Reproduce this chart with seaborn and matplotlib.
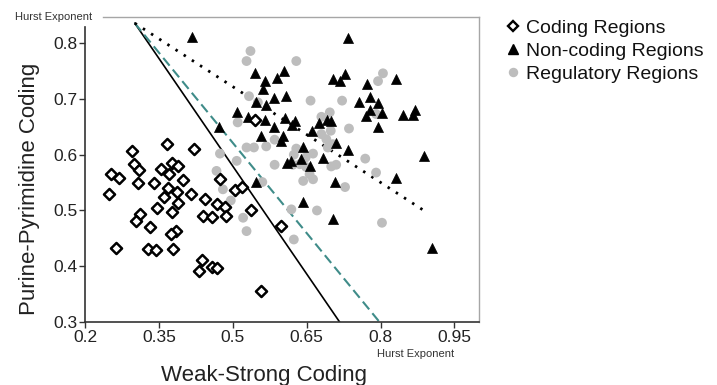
import matplotlib
matplotlib.use("Agg")
import matplotlib.pyplot as plt
from matplotlib.lines import Line2D
import seaborn as sns
import pandas as pd

# ---- data ----
coding_x = [0.367, 0.422, 0.296, 0.300, 0.310, 0.376, 0.389, 0.354, 0.371, 0.253,
            0.270, 0.307, 0.340, 0.399, 0.369, 0.386, 0.249, 0.361, 0.415, 0.443,
            0.474, 0.504, 0.519, 0.469, 0.485, 0.389, 0.347, 0.376, 0.311, 0.440,
            0.457, 0.487, 0.537, 0.303, 0.332, 0.384, 0.374, 0.263, 0.327, 0.344,
            0.379, 0.438, 0.432, 0.458, 0.469, 0.557, 0.545, 0.597]
coding_y = [0.619, 0.611, 0.606, 0.584, 0.572, 0.586, 0.580, 0.574, 0.566, 0.565,
            0.559, 0.550, 0.550, 0.554, 0.541, 0.533, 0.530, 0.524, 0.529, 0.520,
            0.556, 0.536, 0.542, 0.512, 0.507, 0.514, 0.504, 0.498, 0.494, 0.490,
            0.489, 0.490, 0.500, 0.482, 0.470, 0.464, 0.457, 0.432, 0.431, 0.430,
            0.431, 0.411, 0.391, 0.399, 0.397, 0.356, 0.663, 0.472]

noncoding_x = [0.418, 0.734, 0.545, 0.604, 0.590, 0.565, 0.561, 0.609, 0.583, 0.548,
               0.568, 0.508, 0.530, 0.565, 0.607, 0.626, 0.621, 0.583, 0.558, 0.602,
               0.597, 0.472, 0.660, 0.675, 0.692, 0.700, 0.710, 0.734, 0.642, 0.704,
               0.727, 0.718, 0.773, 0.832, 0.757, 0.778, 0.795, 0.778, 0.803, 0.771,
               0.794, 0.845, 0.866, 0.870, 0.889, 0.610, 0.619, 0.639, 0.657, 0.683,
               0.547, 0.707, 0.832, 0.643, 0.704, 0.904]
noncoding_y = [0.811, 0.810, 0.746, 0.751, 0.738, 0.732, 0.717, 0.706, 0.701, 0.695,
               0.689, 0.676, 0.668, 0.663, 0.666, 0.661, 0.654, 0.649, 0.634, 0.634,
               0.624, 0.650, 0.643, 0.657, 0.663, 0.661, 0.621, 0.609, 0.614, 0.735,
               0.745, 0.732, 0.727, 0.736, 0.694, 0.704, 0.692, 0.680, 0.674, 0.670,
               0.650, 0.672, 0.672, 0.681, 0.598, 0.586, 0.589, 0.592, 0.579, 0.594,
               0.551, 0.551, 0.559, 0.515, 0.484, 0.432]

regulatory_x = [0.536, 0.528, 0.629, 0.533, 0.551, 0.658, 0.722, 0.805, 0.795, 0.680,
                0.697, 0.736, 0.680, 0.699, 0.690, 0.528, 0.543, 0.568, 0.585, 0.474,
                0.508, 0.629, 0.663, 0.693, 0.703, 0.769, 0.585, 0.622, 0.649, 0.710,
                0.467, 0.480, 0.496, 0.521, 0.528, 0.560, 0.624, 0.636, 0.648, 0.643,
                0.663, 0.656, 0.700, 0.791, 0.728, 0.619, 0.671, 0.624, 0.803, 0.791,
                0.510]
regulatory_y = [0.786, 0.768, 0.768, 0.705, 0.694, 0.697, 0.697, 0.746, 0.732, 0.668,
                0.676, 0.647, 0.637, 0.643, 0.628, 0.613, 0.613, 0.615, 0.627, 0.602,
                0.589, 0.611, 0.602, 0.613, 0.619, 0.593, 0.582, 0.582, 0.578, 0.582,
                0.571, 0.538, 0.518, 0.487, 0.463, 0.551, 0.600, 0.583, 0.595, 0.553,
                0.556, 0.565, 0.579, 0.568, 0.542, 0.502, 0.500, 0.448, 0.478, 0.673,
                0.658]

# boundary lines (start / end points)
solid_x = [0.301, 0.717]
solid_y = [0.836, 0.300]
dashed_x = [0.301, 0.798]
dashed_y = [0.836, 0.300]
dotted_x = [0.301, 0.895]
dotted_y = [0.836, 0.496]

x_ticks = [0.2, 0.35, 0.5, 0.65, 0.8, 0.95]
x_tick_labels = ["0.2", "0.35", "0.5", "0.65", "0.8", "0.95"]
y_ticks = [0.3, 0.4, 0.5, 0.6, 0.7, 0.8]
y_tick_labels = ["0.3", "0.4", "0.5", "0.6", "0.7", "0.8"]
legend_labels = ["Coding Regions", "Non-coding Regions", "Regulatory Regions"]

# ---- styling ----
sns.set_theme(style="white")
plt.rcParams["font.family"] = ["Liberation Sans", "DejaVu Sans"]

fig = plt.figure(figsize=(7.17, 3.85), dpi=100)
ax = fig.add_axes([85 / 717, 1 - 322 / 385, (479 - 85) / 717, (322 - 17) / 385])

df_c = pd.DataFrame({"x": coding_x, "y": coding_y})
df_n = pd.DataFrame({"x": noncoding_x, "y": noncoding_y})
df_r = pd.DataFrame({"x": regulatory_x, "y": regulatory_y})

teal = "#3f8c89"
sns.lineplot(x=solid_x, y=solid_y, ax=ax, color="black", lw=1.2, sort=False,
             estimator=None, zorder=2)
sns.lineplot(x=dashed_x, y=dashed_y, ax=ax, color=teal, lw=1.5, sort=False,
             estimator=None, zorder=2, dashes=False, linestyle=(0, (4.8, 2.4)))
sns.lineplot(x=dotted_x, y=dotted_y, ax=ax, color="black", lw=2.0, sort=False,
             estimator=None, zorder=2, dashes=False, linestyle=(0, (0.9, 2.6)))

sns.scatterplot(data=df_r, x="x", y="y", ax=ax, marker="o", s=50,
                color="#bdbdbd", edgecolor="none", linewidth=0, zorder=3)
sns.scatterplot(data=df_n, x="x", y="y", ax=ax, marker="^", s=52,
                color="black", edgecolor="black", linewidth=0.5, zorder=4)
sns.scatterplot(data=df_c, x="x", y="y", ax=ax, marker="D", s=32,
                color="white", edgecolor="black", linewidth=1.8, zorder=5)

ax.set_xlim(0.2, 1.0)
ax.set_ylim(0.3, 0.847)
ax.set_xticks(x_ticks)
ax.set_xticklabels(x_tick_labels)
ax.set_yticks(y_ticks)
ax.set_yticklabels(y_tick_labels)
ax.tick_params(axis="both", which="major", labelsize=12.5, length=4, width=1,
               direction="out", color="#333333", pad=1.5, labelcolor="#222222",
               bottom=True, left=True)

for side in ["left", "bottom"]:
    ax.spines[side].set_color("#333333")
    ax.spines[side].set_linewidth(1.2)
for side in ["top", "right"]:
    ax.spines[side].set_visible(True)
    ax.spines[side].set_color("#a6a6a6")
    ax.spines[side].set_linewidth(1.0)
ax.spines["left"].set_bounds(0.3, 0.829)
ax.spines["top"].set_bounds(0.236, 1.0)

ax.set_xlabel("Weak-Strong Coding", fontsize=16, color="#222222")
ax.set_ylabel("Purine-Pyrimidine Coding", fontsize=16, color="#222222")
ax.xaxis.set_label_coords(0.455, -0.14)
ax.yaxis.set_label_coords(-0.115, 0.435)

# small "Hurst Exponent" captions
fig.text(15 / 717, 1 - 17 / 385, "Hurst Exponent", fontsize=8, color="#333333",
         ha="left", va="center")
fig.text(377 / 717, 1 - 354 / 385, "Hurst Exponent", fontsize=8, color="#333333",
         ha="left", va="center")

handles = [
    Line2D([], [], marker="D", linestyle="none", markersize=5.4,
           markerfacecolor="white", markeredgecolor="black", markeredgewidth=1.7),
    Line2D([], [], marker="^", linestyle="none", markersize=6.8,
           markerfacecolor="black", markeredgecolor="black"),
    Line2D([], [], marker="o", linestyle="none", markersize=6.8,
           markerfacecolor="#bdbdbd", markeredgecolor="none"),
]
fig.legend(handles, legend_labels, loc="upper left",
           bbox_to_anchor=(505 / 717, 1 - 19 / 385), frameon=False,
           fontsize=14, borderpad=0, borderaxespad=0, handlelength=0.8,
           handletextpad=0.3, labelspacing=0.28, labelcolor="#111111")

fig.savefig("out.png", dpi=100)
